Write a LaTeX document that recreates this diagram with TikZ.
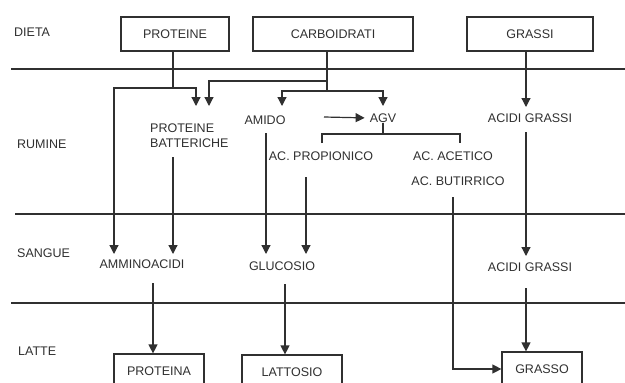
\documentclass[tikz,border=0pt]{standalone}
\usepackage{fontspec}
\setmainfont{Liberation Sans}
\usetikzlibrary{arrows.meta}
\definecolor{ink}{HTML}{303030}
\begin{document}
\begin{tikzpicture}[x=1pt,y=-1pt,
  every node/.style={font=\fontsize{12.5}{14}\selectfont, text=ink, inner sep=0pt},
  lbl/.style={anchor=west},
  boxn/.style={draw=ink, line width=1.2pt, minimum height=34pt},
  ln/.style={draw=ink, line width=1.2pt},
  arr/.style={ln, -{Triangle[width=9pt,length=9pt]}}]
\useasboundingbox (0,0) rectangle (625,383);
\clip (0,0) rectangle (625,383);
\fill[white] (0,0) rectangle (625,383);
% section lines
\draw[ln] (11,69) -- (625,69);
\draw[ln] (15,214) -- (625,214);
\draw[ln] (11,303) -- (625,303);
% labels
\node[lbl] (ldieta) at (14,32) {DIETA};
\node[lbl] (lrumine) at (17,144) {RUMINE};
\node[lbl] (lsangue) at (17,253) {SANGUE};
\node[lbl] (llatte) at (18,351) {LATTE};
% boxes
\node[boxn, minimum width=108pt] (prot) at (175,34) {PROTEINE};
\node[boxn, minimum width=160pt] (carb) at (333,34) {CARBOIDRATI};
\node[boxn, minimum width=126pt] (grassi) at (530,34) {GRASSI};
\node[boxn, minimum width=90pt] (proteina) at (159,371) {PROTEINA};
\node[boxn, minimum width=100pt] (lattosio) at (292,372) {LATTOSIO};
\node[boxn, minimum width=80pt] (grasso) at (542,369) {GRASSO};
% rumen texts
\node[anchor=west, align=left] (pbatt) at (150,136) {PROTEINE\\[1pt]BATTERICHE};
\node (amido) at (265,120) {AMIDO};
\node (agv) at (383,118) {AGV};
\node (acgr1) at (530,118) {ACIDI GRASSI};
\node (acprop) at (321,156) {AC. PROPIONICO};
\node (acacet) at (453,156) {AC. ACETICO};
\node (acbut) at (458,181) {AC. BUTIRRICO};
% blood texts
\node (ammino) at (142,264) {AMMINOACIDI};
\node (gluc) at (282,266) {GLUCOSIO};
\node (acgr2) at (530,267) {ACIDI GRASSI};
% coordinates
\coordinate (pj) at (173,88);
\coordinate (cj1) at (327,81);
\coordinate (cj2) at (327,91);
\coordinate (pb1) at (196,106);
\coordinate (pb2) at (209,106);
\coordinate (am1) at (282,106);
\coordinate (ag1) at (383,106);
\coordinate (aa1) at (114,254);
\coordinate (aa2) at (173,254);
\coordinate (gl1) at (266,254);
\coordinate (gl2) at (306,254);
\coordinate (agin) at (324,117);
\coordinate (bj) at (383,134);
% diet connectors
\draw[ln] (prot.south -| pj) -- (pj);
\draw[arr] (pj) -| (pb1);
\draw[arr] (pj) -| (aa1);
\draw[ln] (carb.south -| cj1) -- (cj2);
\draw[arr] (cj1) -| (pb2);
\draw[arr] (cj2) -| (am1);
\draw[arr] (cj2) -| (ag1);
\draw[arr] (grassi.south -| 526,0) -- (526,107);
% rumen
\draw[arr, shorten >=5pt] (agin) -- (agv.west);
\draw[ln] (agv.south -| bj) -- (bj);
\draw[ln] (322,143) |- (460,134) -- (460,143);
\draw[arr] (173,157) -- (aa2);
\draw[arr] (266,133) -- (gl1);
\draw[arr] (306,177) -- (gl2);
\draw[arr] (526,132) -- (526,256);
\draw[arr] (453,197) |- (grasso.west);
% blood to milk
\draw[arr] (153,283) -- (proteina.north -| 153,0);
\draw[arr] (285,284) -- (lattosio.north -| 285,0);
\draw[arr] (526,288) -- (grasso.north -| 526,0);
\end{tikzpicture}
\end{document}
